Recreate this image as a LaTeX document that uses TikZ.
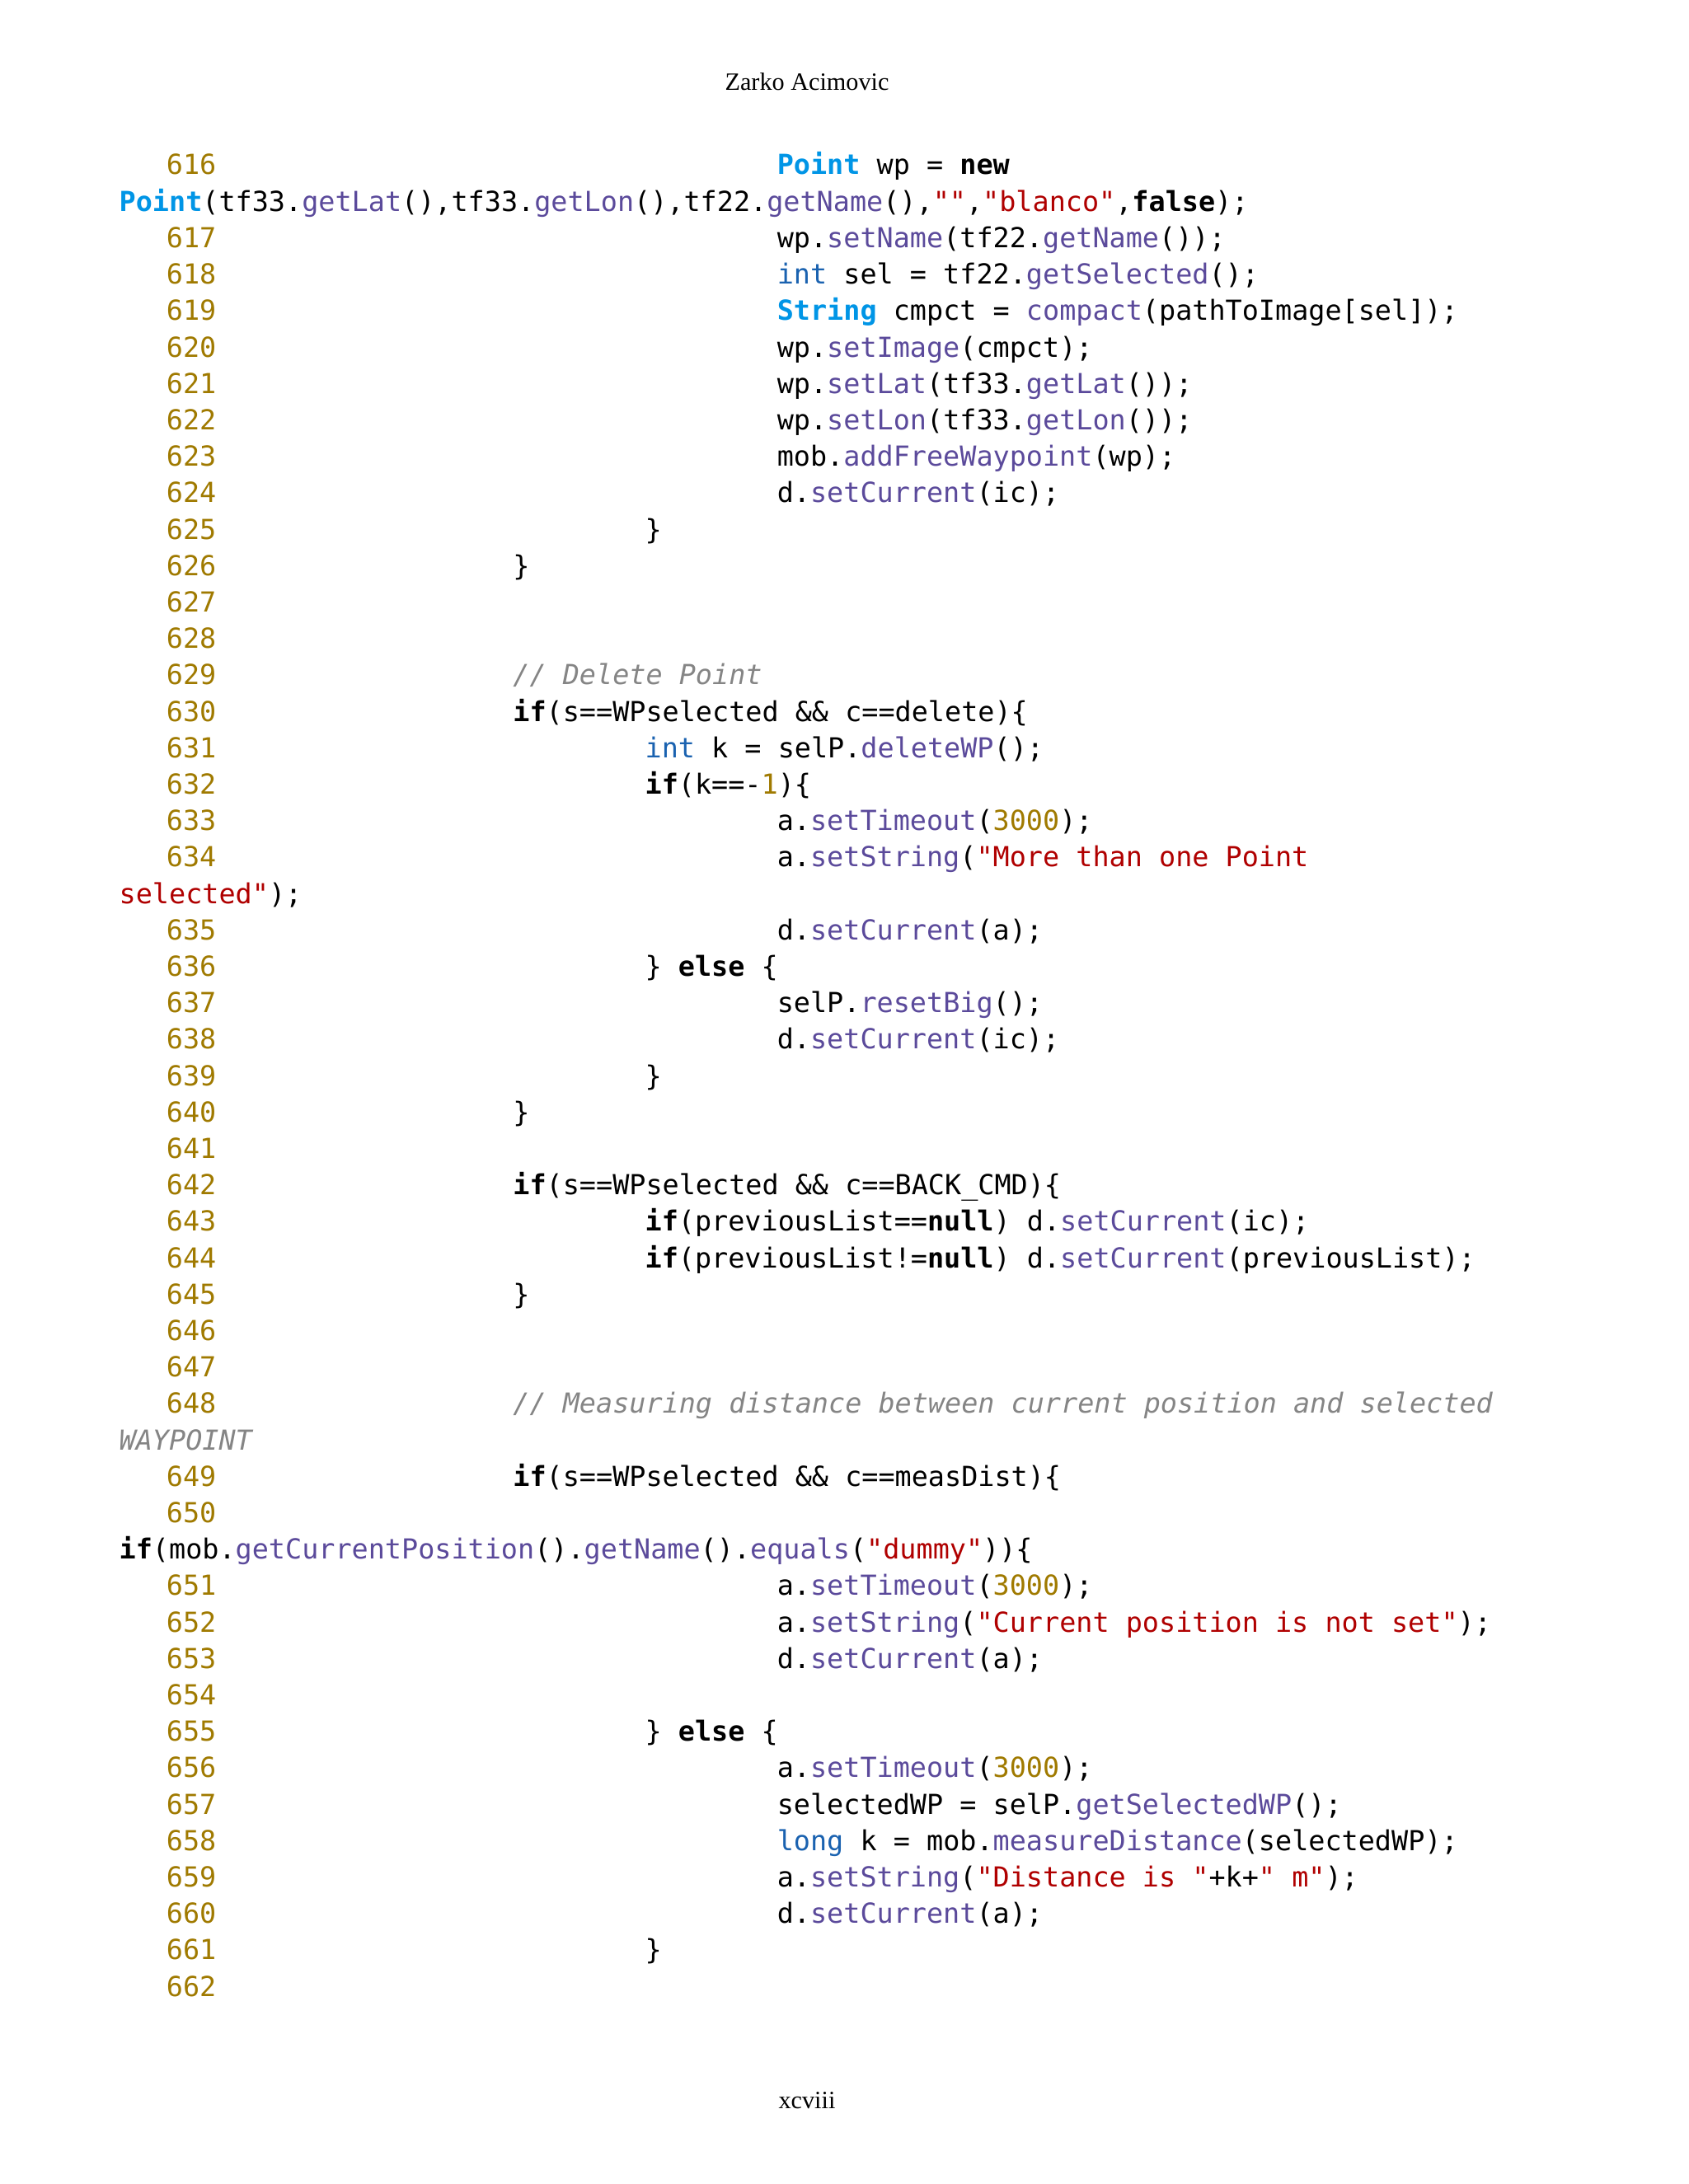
\documentclass[tikz,border=0pt]{standalone}
\usepackage{fontspec}
\setmainfont{Liberation Serif}
\newfontfamily\codefont{DejaVu Sans Mono}
\definecolor{lnc}{HTML}{A07A00}
\definecolor{tyc}{HTML}{0095E6}
\definecolor{ptc}{HTML}{1A62B0}
\definecolor{mtc}{HTML}{5B4A9B}
\definecolor{stc}{HTML}{B00000}
\definecolor{cmc}{HTML}{858585}
\newcommand\kw[1]{\textbf{#1}}
\newcommand\ty[1]{\textcolor{tyc}{\textbf{#1}}}
\newcommand\pt[1]{\textcolor{ptc}{#1}}
\newcommand\mt[1]{\textcolor{mtc}{#1}}
\newcommand\st[1]{\textcolor{stc}{#1}}
\newcommand\nm[1]{\textcolor{lnc}{#1}}
\newcommand\cm[1]{\textcolor{cmc}{\itshape #1}}
\newcommand\crow[4]{%
  \node[lnum] (n#1) at (2.63,{-(2.12+0.442*#1)}) {#2};
  \ifnum#3=0
  \node[code] (c#1) at (1.44,{-(2.12+0.442*#1)}) {#4};
  \else
  \node[code] (c#1) at ({4.615+1.602*#3},{-(2.12+0.442*#1)}) {#4};
  \fi}
\begin{document}
\begin{tikzpicture}[
  lnum/.style={anchor=base east,inner sep=0pt,font=\codefont\fontsize{9.52}{11}\selectfont,text=lnc},
  code/.style={anchor=base west,inner sep=0pt,font=\codefont\fontsize{9.52}{11}\selectfont,text=black},
  page/.style={anchor=base,inner sep=0pt,font=\fontsize{8.6}{10}\selectfont}]
\useasboundingbox[fill=white] (0,0) rectangle (20.48,-26.5);
\node[page] (head) at (9.79,-1.10) {Zarko Acimovic};
\node[page] (foot) at (9.79,-25.58) {xcviii};
\crow{0}{616}{3}{\ty{Point} wp = \kw{new}}
\crow{1}{}{0}{\ty{Point}(tf33.\mt{getLat}(),tf33.\mt{getLon}(),tf22.\mt{getName}(),\st{""},\st{"blanco"},\kw{false});}
\crow{2}{617}{3}{wp.\mt{setName}(tf22.\mt{getName}());}
\crow{3}{618}{3}{\pt{int} sel = tf22.\mt{getSelected}();}
\crow{4}{619}{3}{\ty{String} cmpct = \mt{compact}(pathToImage[sel]);}
\crow{5}{620}{3}{wp.\mt{setImage}(cmpct);}
\crow{6}{621}{3}{wp.\mt{setLat}(tf33.\mt{getLat}());}
\crow{7}{622}{3}{wp.\mt{setLon}(tf33.\mt{getLon}());}
\crow{8}{623}{3}{mob.\mt{addFreeWaypoint}(wp);}
\crow{9}{624}{3}{d.\mt{setCurrent}(ic);}
\crow{10}{625}{2}{\}}
\crow{11}{626}{1}{\}}
\crow{12}{627}{1}{}
\crow{13}{628}{1}{}
\crow{14}{629}{1}{\cm{// Delete Point}}
\crow{15}{630}{1}{\kw{if}(s==WPselected \&\& c==delete)\{}
\crow{16}{631}{2}{\pt{int} k = selP.\mt{deleteWP}();}
\crow{17}{632}{2}{\kw{if}(k==-\nm{1})\{}
\crow{18}{633}{3}{a.\mt{setTimeout}(\nm{3000});}
\crow{19}{634}{3}{a.\mt{setString}(\st{"More than one Point}}
\crow{20}{}{0}{\st{selected"});}
\crow{21}{635}{3}{d.\mt{setCurrent}(a);}
\crow{22}{636}{2}{\} \kw{else} \{}
\crow{23}{637}{3}{selP.\mt{resetBig}();}
\crow{24}{638}{3}{d.\mt{setCurrent}(ic);}
\crow{25}{639}{2}{\}}
\crow{26}{640}{1}{\}}
\crow{27}{641}{1}{}
\crow{28}{642}{1}{\kw{if}(s==WPselected \&\& c==BACK\_CMD)\{}
\crow{29}{643}{2}{\kw{if}(previousList==\kw{null}) d.\mt{setCurrent}(ic);}
\crow{30}{644}{2}{\kw{if}(previousList!=\kw{null}) d.\mt{setCurrent}(previousList);}
\crow{31}{645}{1}{\}}
\crow{32}{646}{1}{}
\crow{33}{647}{1}{}
\crow{34}{648}{1}{\cm{// Measuring distance between current position and selected}}
\crow{35}{}{0}{\cm{WAYPOINT}}
\crow{36}{649}{1}{\kw{if}(s==WPselected \&\& c==measDist)\{}
\crow{37}{650}{1}{}
\crow{38}{}{0}{\kw{if}(mob.\mt{getCurrentPosition}().\mt{getName}().\mt{equals}(\st{"dummy"}))\{}
\crow{39}{651}{3}{a.\mt{setTimeout}(\nm{3000});}
\crow{40}{652}{3}{a.\mt{setString}(\st{"Current position is not set"});}
\crow{41}{653}{3}{d.\mt{setCurrent}(a);}
\crow{42}{654}{3}{}
\crow{43}{655}{2}{\} \kw{else} \{}
\crow{44}{656}{3}{a.\mt{setTimeout}(\nm{3000});}
\crow{45}{657}{3}{selectedWP = selP.\mt{getSelectedWP}();}
\crow{46}{658}{3}{\pt{long} k = mob.\mt{measureDistance}(selectedWP);}
\crow{47}{659}{3}{a.\mt{setString}(\st{"Distance is "}+k+\st{" m"});}
\crow{48}{660}{3}{d.\mt{setCurrent}(a);}
\crow{49}{661}{2}{\}}
\crow{50}{662}{1}{}
\end{tikzpicture}
\end{document}
